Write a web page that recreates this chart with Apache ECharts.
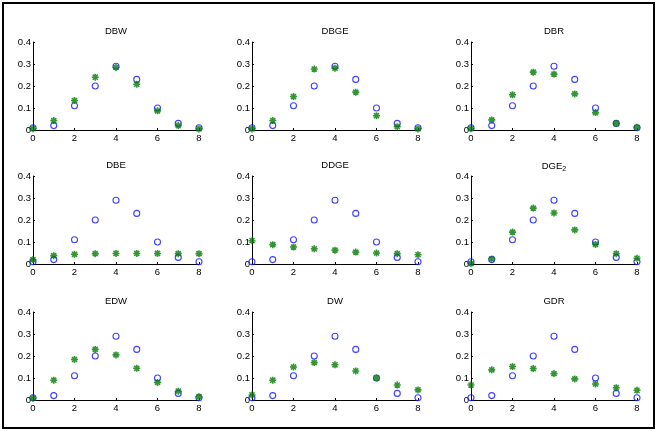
<!DOCTYPE html>
<html>
<head>
<meta charset="utf-8">
<script src="https://cdn.jsdelivr.net/npm/echarts@6/dist/echarts.min.js"></script>
<style>html,body{margin:0;padding:0;background:#fff}#c{width:659px;height:434px}</style>
</head>
<body>
<div id="c"></div>
<script>
var xValues = [0, 1, 2, 3, 4, 5, 6, 7, 8];
var xTicks = [0, 2, 4, 6, 8];
var yTicks = [0, 0.1, 0.2, 0.3, 0.4];
var panelNames = ['DBW', 'DBGE', 'DBR', 'DBE', 'DDGE', 'DGE2', 'EDW', 'DW', 'GDR'];
var reference = [0.01, 0.02, 0.11, 0.20, 0.29, 0.23, 0.10, 0.03, 0.01];
var DBW  = [0.006, 0.043, 0.134, 0.240, 0.284, 0.208, 0.087, 0.020, 0.005];
var DBGE = [0.005, 0.043, 0.152, 0.277, 0.281, 0.172, 0.065, 0.015, 0.005];
var DBR  = [0.006, 0.046, 0.160, 0.263, 0.254, 0.164, 0.079, 0.030, 0.012];
var DBE  = [0.020, 0.038, 0.044, 0.047, 0.048, 0.048, 0.048, 0.047, 0.047];
var DDGE = [0.106, 0.088, 0.077, 0.069, 0.063, 0.054, 0.050, 0.047, 0.042];
var DGE2 = [0.002, 0.023, 0.145, 0.254, 0.232, 0.155, 0.089, 0.047, 0.026];
var EDW  = [0.008, 0.090, 0.184, 0.230, 0.205, 0.144, 0.080, 0.040, 0.015];
var DW   = [0.023, 0.090, 0.150, 0.170, 0.160, 0.132, 0.100, 0.068, 0.046];
var GDR  = [0.068, 0.137, 0.152, 0.143, 0.120, 0.096, 0.073, 0.056, 0.044];
var panelData = [DBW, DBGE, DBR, DBE, DDGE, DGE2, EDW, DW, GDR];

var colLeft = [33, 252, 471];
var rowTop = [42, 176, 312];
var gw = 166, gh = 88;
var font = 'Liberation Sans, Arial, sans-serif';
var star = 'path://M0,-1L0,1M-1,0L1,0M-0.72,-0.72L0.72,0.72M-0.72,0.72L0.72,-0.72';

var grids = [], xAxes = [], yAxes = [], series = [], titles = [];
panelNames.forEach(function (name, i) {
  var r = Math.floor(i / 3), c = i % 3;
  grids.push({left: colLeft[c], top: rowTop[r], width: gw, height: gh});
  xAxes.push({
    type: 'value', gridIndex: i, min: 0, max: 8, interval: 2,
    axisLine: {lineStyle: {color: '#000', width: 1}},
    axisTick: {inside: true, length: 2, lineStyle: {color: '#000'}},
    splitLine: {show: false},
    axisLabel: {color: '#000', fontSize: 9.5, fontFamily: font, margin: 3}
  });
  yAxes.push({
    type: 'value', gridIndex: i, min: 0, max: 0.4, interval: 0.1,
    axisLine: {show: true, lineStyle: {color: '#000', width: 1}},
    axisTick: {show: true, inside: true, length: 2, lineStyle: {color: '#000'}},
    splitLine: {show: false},
    axisLabel: {color: '#000', fontSize: 9.5, fontFamily: font, margin: 2,
      formatter: function (v) { return String(Math.round(v * 10) / 10); }}
  });
  var label = name === 'DGE2' ? 'DGE{sub|2}' : name;
  titles.push({
    text: label, left: colLeft[c] + gw / 2, top: rowTop[r] - 16, textAlign: 'center', padding: 0,
    textStyle: {fontSize: 9.5, fontWeight: 'normal', color: '#000', fontFamily: font,
      rich: {sub: {fontSize: 7, verticalAlign: 'bottom', padding: [6, 0, 0, 0], fontFamily: font}}}
  });
  series.push({
    type: 'scatter', xAxisIndex: i, yAxisIndex: i, clip: false,
    data: xValues.map(function (x, k) { return [x, reference[k]]; }),
    symbol: 'circle', symbolSize: 6,
    itemStyle: {color: 'rgba(0,0,0,0)', borderColor: '#1010ff', borderWidth: 1.1},
    emphasis: {disabled: true}, z: 2
  });
  series.push({
    type: 'scatter', xAxisIndex: i, yAxisIndex: i, clip: false,
    data: xValues.map(function (x, k) { return [x, panelData[i][k]]; }),
    symbol: star, symbolSize: 7,
    itemStyle: {color: 'rgba(0,0,0,0)', borderColor: '#007a00', borderWidth: 1.6},
    emphasis: {disabled: true}, z: 3
  });
});

var chart = echarts.init(document.getElementById('c'), null, {renderer: 'canvas'});
chart.setOption({
  backgroundColor: '#fff',
  animation: false,
  title: titles,
  grid: grids,
  xAxis: xAxes,
  yAxis: yAxes,
  series: series,
  graphic: [{
    type: 'rect', shape: {x: 3, y: 3, width: 651, height: 425},
    style: {fill: null, stroke: '#000', lineWidth: 2}, silent: true
  }]
});
</script>
</body>
</html>
